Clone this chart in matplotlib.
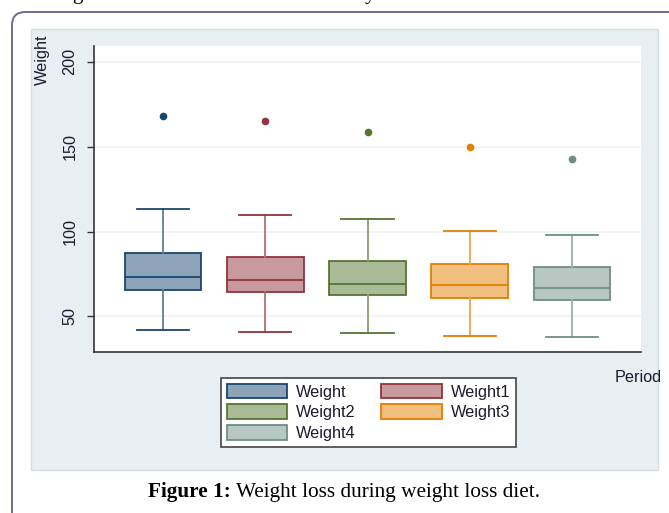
import matplotlib
matplotlib.use("Agg")
import matplotlib.pyplot as plt
from matplotlib.patches import Rectangle, FancyBboxPatch, Patch
from matplotlib.colors import to_rgb
import numpy as np

# box summary values
labels = ['Weight', 'Weight1', 'Weight2', 'Weight3', 'Weight4']
q1 = [65.3, 64.3, 62.5, 61.0, 59.6]
med = [73.5, 71.6, 69.4, 68.6, 66.7]
q3 = [87.6, 85.3, 82.5, 81.0, 79.2]
whislo = [42.2, 40.8, 40.0, 38.8, 38.0]
whishi = [113.4, 110.0, 107.1, 100.2, 98.0]
outliers = [168.2, 165.1, 158.4, 150.0, 142.4]
yticks = [50, 100, 150, 200]

colors = ['#1a476f', '#90353b', '#55752f', '#e37e00', '#6e8e84']


def lighten(c, f):
    r = np.array(to_rgb(c))
    return tuple(r + (1 - r) * f)


plt.rcParams['font.family'] = ['Liberation Sans', 'DejaVu Sans']
W, H = 669, 513
fs = 11.7
txtc = '#1a1a2e'
fig = plt.figure(figsize=(W / 100, H / 100), dpi=100)

# outer page frame and grey graph region
fig.patches.append(FancyBboxPatch((12 / W, -100 / H), 760 / W, (513 + 100 - 12) / H,
                                  boxstyle='round,pad=0,rounding_size=0.02',
                                  transform=fig.transFigure, facecolor='none',
                                  edgecolor='#6a6a9c', linewidth=1.4,
                                  mutation_aspect=W / H, zorder=0))
fig.patches.append(Rectangle((31 / W, 1 - 470 / H), (658 - 31) / W, (470 - 29) / H,
                             transform=fig.transFigure, facecolor='#e8eff2',
                             edgecolor='#d6dde0', linewidth=1, zorder=0))

ax = fig.add_axes([94 / W, 1 - 352 / H, (641 - 94) / W, (352 - 46) / H], zorder=2)
ax.set_facecolor('white')

stats = []
for i in range(len(labels)):
    stats.append(dict(label=labels[i], q1=q1[i], med=med[i], q3=q3[i],
                      whislo=whislo[i], whishi=whishi[i], fliers=[outliers[i]]))

pos = np.arange(1, len(labels) + 1)
bp = ax.bxp(stats, positions=pos, widths=0.75, capwidths=0.51,
            patch_artist=True, showfliers=True)

for i, c in enumerate(colors):
    bp['boxes'][i].set(facecolor=lighten(c, 0.5), edgecolor=c, linewidth=1.3)
    bp['medians'][i].set(color=c, linewidth=1.3)
    for w in bp['whiskers'][2 * i:2 * i + 2]:
        w.set(color=lighten(c, 0.3), linewidth=1.3)
    for cp in bp['caps'][2 * i:2 * i + 2]:
        cp.set(color=c, linewidth=1.3)
    bp['fliers'][i].set(marker='o', markerfacecolor=c, markeredgecolor=c,
                        markersize=4.5)

ax.set_xlim(0.325, 5.675)
ax.set_ylim(29.1, 209.2)
ax.set_yticks(yticks)
ax.set_yticklabels([str(t) for t in yticks], rotation=90, va='center',
                   fontsize=fs, color=txtc)
ax.set_xticks([])
ax.tick_params(axis='y', length=5, width=1, pad=7, color='#333333')
ax.grid(axis='y', color='#eef2f2', linewidth=1.2)
ax.set_axisbelow(True)
for s in ['top', 'right']:
    ax.spines[s].set_visible(False)
for s in ['left', 'bottom']:
    ax.spines[s].set_color('#333333')
    ax.spines[s].set_linewidth(1.2)

fig.text(42 / W, 1 - 35 / H, 'Weight', rotation=90, ha='center', va='top',
         fontsize=fs, color=txtc)
fig.text(662 / W, 1 - 377 / H, 'Period', ha='right', va='center',
         fontsize=fs, color=txtc)

handles = [Patch(facecolor=lighten(c, 0.5), edgecolor=c, linewidth=1.3) for c in colors]
order = [0, 2, 4, 1, 3]
leg = fig.legend([handles[k] for k in order], [labels[k] for k in order],
                 ncol=2, loc='upper left',
                 bbox_to_anchor=(221 / W, 1 - 378 / H), bbox_transform=fig.transFigure,
                 borderaxespad=0, fontsize=fs, handlelength=3.7, handleheight=1.0,
                 handletextpad=0.55, columnspacing=1.6, labelspacing=0.3,
                 borderpad=0.35, fancybox=False, framealpha=1)
leg.set_zorder(3)
leg.get_frame().set_edgecolor('#444444')
leg.get_frame().set_linewidth(1.2)
for t in leg.get_texts():
    t.set_color(txtc)

# caption under the graph
serif = ['Liberation Serif', 'DejaVu Serif']
cap1 = fig.text(148 / W, 1 - 492 / H, 'Figure 1:', family=serif, fontweight='bold',
                fontsize=15.3, va='center', ha='left')
fig.canvas.draw()
bb = cap1.get_window_extent()
fig.text(bb.x1 / W + 5 / W, 1 - 492 / H, 'Weight loss during weight loss diet.',
         family=serif, fontsize=15.3, va='center', ha='left')

# cut-off line of text at the very top of the page
fig.text(77 / W, 1 + 1 / H, 'g', family=serif, fontsize=15.3, va='baseline', ha='center')
fig.text(370 / W, 1 + 1 / H, 'y', family=serif, fontsize=15.3, va='baseline', ha='center')

fig.savefig('out.png', dpi=100)
